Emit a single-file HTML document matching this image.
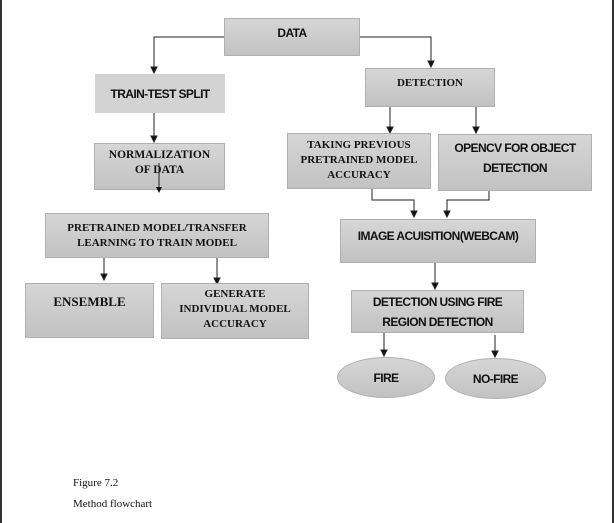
<!DOCTYPE html>
<html><head><style>
body{margin:0;width:615px;height:523px;background:#fff;position:relative;overflow:hidden}
.b{position:absolute;box-sizing:border-box;border:1px solid #b0b0b0;background:linear-gradient(#d6d6d6,#c2c2c2);display:flex;align-items:center;justify-content:center;text-align:center;font-weight:bold;color:#111}
.s{font-family:"Liberation Sans",sans-serif;font-size:12px;letter-spacing:-0.6px;line-height:20px}
.r{font-family:"Liberation Serif",serif;font-size:11px;line-height:15px}
.e{border-radius:50%}
.cap{position:absolute;left:73px;font-family:"Liberation Serif",serif;font-size:11px;color:#111}
</style></head><body>
<div style="position:absolute;left:0;top:0;width:2px;height:523px;background:#333"></div>
<div style="position:absolute;left:612px;top:0;width:2px;height:523px;background:#333"></div>
<svg width="615" height="523" style="position:absolute;left:0;top:0">
<g stroke="#222" fill="none" stroke-width="1">
<polyline points="224,37 154,37 154,67"/><path d="M151,67 l6,0 l-3,6z" fill="#111"/>
<polyline points="360,37 431,37 431,61"/><path d="M428,61 l6,0 l-3,6z" fill="#111"/>
<line x1="154" y1="113" x2="154" y2="136"/><path d="M151,136 l6,0 l-3,6z" fill="#111"/>
<line x1="390" y1="107" x2="390" y2="127"/><path d="M387,127 l6,0 l-3,6z" fill="#111"/>
<line x1="476" y1="107" x2="476" y2="127"/><path d="M473,127 l6,0 l-3,6z" fill="#111"/>
<polyline points="372,189 372,200 414,200 414,211"/><path d="M411,211 l6,0 l-3,6z" fill="#111"/>
<polyline points="489,191 489,200 447,200 447,211"/><path d="M444,211 l6,0 l-3,6z" fill="#111"/>
<line x1="104" y1="258" x2="104" y2="274"/><path d="M101,274 l6,0 l-3,6z" fill="#111"/>
<line x1="217" y1="258" x2="217" y2="278"/><path d="M214,278 l6,0 l-3,6z" fill="#111"/>
<line x1="435" y1="263" x2="435" y2="283"/><path d="M432,283 l6,0 l-3,6z" fill="#111"/>
<line x1="384" y1="333" x2="384" y2="350"/><path d="M381,350 l6,0 l-3,6z" fill="#111"/>
<line x1="495" y1="335" x2="495" y2="351"/><path d="M492,351 l6,0 l-3,6z" fill="#111"/>
</g></svg>
<div class="b s" style="left:224px;top:18px;width:136px;height:38px;align-items:flex-start;padding-top:4px">DATA</div>
<div class="b s" style="left:95px;top:74px;width:130px;height:39px;background:#d3d3d3;border-color:#d3d3d3">TRAIN-TEST SPLIT</div>
<div class="b r" style="left:365px;top:68px;width:130px;height:39px;align-items:flex-start;padding-top:7px">DETECTION</div>
<div class="b r" style="left:94px;top:143px;width:131px;height:47px;align-items:flex-start;padding-top:4px;font-size:11.5px">NORMALIZATION<br>OF DATA</div>
<div class="b r" style="left:287px;top:133px;width:144px;height:56px;align-items:flex-start;padding-top:4px">TAKING PREVIOUS<br>PRETRAINED MODEL<br>ACCURACY</div>
<div class="b s" style="left:438px;top:134px;width:154px;height:57px;align-items:flex-start;padding-top:3px">OPENCV FOR OBJECT<br>DETECTION</div>
<div class="b r" style="left:45px;top:213px;width:224px;height:45px">PRETRAINED MODEL/TRANSFER<br>LEARNING TO TRAIN MODEL</div>
<div class="b s" style="left:340px;top:219px;width:196px;height:44px;align-items:flex-start;padding-top:6px">IMAGE ACUISITION(WEBCAM)</div>
<div class="b r" style="left:25px;top:283px;width:129px;height:55px;align-items:flex-start;padding-top:10px;font-size:13px">ENSEMBLE</div>
<div class="b r" style="left:161px;top:283px;width:148px;height:56px;align-items:flex-start;padding-top:3px">GENERATE<br>INDIVIDUAL MODEL<br>ACCURACY</div>
<div class="b s" style="left:351px;top:290px;width:173px;height:43px">DETECTION USING FIRE<br>REGION DETECTION</div>
<div class="b s e" style="left:337px;top:357px;width:98px;height:41px">FIRE</div>
<div class="b s e" style="left:445px;top:358px;width:101px;height:41px">NO-FIRE</div>
<svg width="615" height="523" style="position:absolute;left:0;top:0">
<line x1="159" y1="163" x2="159" y2="187" stroke="#222"/><path d="M156,187 l6,0 l-3,6z" fill="#111"/>
</svg>
<div class="cap" style="top:477px">Figure 7.2</div>
<div class="cap" style="top:498px">Method flowchart</div>
</body></html>
